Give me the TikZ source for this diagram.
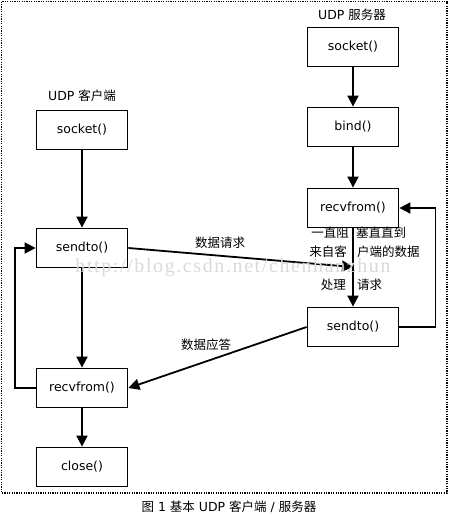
\documentclass[tikz,border=0pt]{standalone}
\usepackage{fontspec}
\setmainfont{DejaVu Sans}
\newfontfamily\cjk{Noto Sans CJK SC}
\newfontfamily\wmfont[LetterSpace=8]{Liberation Serif}
\usetikzlibrary{arrows.meta}
\newcommand{\zh}[1]{{\cjk #1}}

\begin{document}
\begin{tikzpicture}[x=1pt, y=-1pt,
    box/.style={draw, line width=1.8pt, minimum width=91pt, minimum height=39pt, font=\fontsize{12.5}{15}\selectfont},
    arr/.style={line width=1.8pt, -{Triangle[length=11pt,width=11pt]}},
    lbl/.style={font=\fontsize{12.5}{15}\selectfont, inner sep=1pt}]
    \useasboundingbox (0,0) rectangle (449,515);
    \draw[line width=1.5pt, dash pattern=on 1.2pt off 1.2pt] (1.5,1.5) rectangle (447,493);

    % client
    \node[lbl] (ctitle) at (82,96) {UDP \zh{客户端}};
    \node[box] (csock) at (82,130) {socket()};
    \node[box] (csend) at (82,248) {sendto()};
    \node[box] (crecv) at (82,388) {recvfrom()};
    \node[box] (cclose) at (82,467) {close()};

    % server
    \node[lbl] (stitle) at (352,15) {UDP \zh{服务器}};
    \node[box] (ssock) at (353,47) {socket()};
    \node[box] (sbind) at (353,127) {bind()};
    \node[box] (srecv) at (353,208) {recvfrom()};
    \node[box] (ssend) at (353,327) {sendto()};
    \coordinate (req) at (353,267);

    \draw[arr] (csock) -- (csend);
    \draw[arr] (csend) -- (crecv);
    \draw[arr] (crecv) -- (cclose);
    \draw[arr] (crecv.west) -- ++(-21,0) |- (csend.west);

    \draw[arr] (ssock) -- (sbind);
    \draw[arr] (sbind) -- (srecv);
    \draw[arr] (srecv) -- (ssend);
    \draw[arr] (ssend.east) -- ++(36,0) |- (srecv.east);

    \draw[arr] (csend.east) -- (req);
    \draw[arr] (ssend.west) -- (crecv.east);

    % labels
    \node[lbl] (lreq) at (220,243) {\zh{数据请求}};
    \node[lbl] (lans) at (206,345) {\zh{数据应答}};
    \node[lbl, anchor=east] (w1) at (350,233) {\zh{一直阻}};
    \node[lbl, anchor=west] (w2) at (355,233) {\zh{塞直直到}};
    \node[lbl, anchor=east] (w3) at (348,252) {\zh{来自客}};
    \node[lbl, anchor=west] (w4) at (356,252) {\zh{户端的数据}};
    \node[lbl, anchor=east] (w5) at (347,285) {\zh{处理}};
    \node[lbl, anchor=west] (w6) at (356,285) {\zh{请求}};

    \node[font=\wmfont\fontsize{20}{22}\selectfont, text=gray!30] (wm) at (233,268) {http://blog.csdn.net/chenhanzhun};

    \node[lbl] (cap) at (229,507) {\zh{图} 1 \zh{基本} UDP \zh{客户端} / \zh{服务器}};
\end{tikzpicture}
\end{document}
